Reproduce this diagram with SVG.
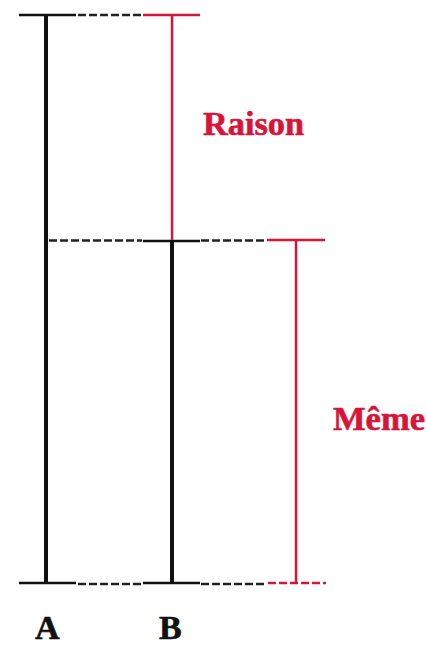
<svg xmlns="http://www.w3.org/2000/svg" width="427" height="645" viewBox="0 0 427 645">
<style>
.blk{stroke:#111;fill:none}
.red{stroke:#d8143a;fill:none}
.dash{stroke:#222;stroke-width:2.5;stroke-dasharray:8,3;fill:none}
.rdash{stroke:#d8143a;stroke-width:2.5;stroke-dasharray:8,3;fill:none}
.lbl{font-family:"Liberation Serif","Times New Roman",serif;font-weight:bold;font-size:34px}
.rl{fill:#d8143a;stroke:#d8143a;stroke-width:0.6}
.bl{fill:#111;stroke:#111;stroke-width:0.6}
</style>
<rect width="427" height="645" fill="#fff"/>
<g id="connectors">
<line class="dash" x1="78" y1="15" x2="141" y2="15"/>
<line class="dash" x1="49" y1="240.5" x2="142" y2="240.5"/>
<line class="dash" x1="201" y1="240.5" x2="266" y2="240.5"/>
<line class="dash" x1="78" y1="584" x2="141" y2="584"/>
<line class="dash" x1="201" y1="584" x2="266" y2="584"/>
<line class="rdash" x1="268" y1="583" x2="326" y2="583"/>
</g>
<g id="A">
<line class="blk" stroke-width="4" x1="46" y1="15" x2="46" y2="582"/>
<line class="blk" stroke-width="2.5" x1="19" y1="15" x2="76" y2="15"/>
<line class="blk" stroke-width="2.5" x1="19" y1="583" x2="76" y2="583"/>
<text class="lbl bl" x="35" y="639">A</text>
</g>
<g id="B">
<line class="blk" stroke-width="4" x1="172" y1="241" x2="172" y2="582"/>
<line class="blk" stroke-width="2.5" x1="143" y1="241" x2="200" y2="241"/>
<line class="blk" stroke-width="2.5" x1="143" y1="583" x2="200" y2="583"/>
<text class="lbl bl" x="159" y="639">B</text>
</g>
<g id="Raison">
<line class="red" stroke-width="2.5" x1="172" y1="15" x2="172" y2="240"/>
<line class="red" stroke-width="2.5" x1="143" y1="15" x2="200" y2="15"/>
<text class="lbl rl" x="203" y="135" textLength="101" lengthAdjust="spacingAndGlyphs">Raison</text>
</g>
<g id="Meme">
<line class="red" stroke-width="2.5" x1="296" y1="240" x2="296" y2="582"/>
<line class="red" stroke-width="2.5" x1="267" y1="240" x2="325" y2="240"/>
<text class="lbl rl" x="333" y="430" textLength="92" lengthAdjust="spacingAndGlyphs">Même</text>
</g>
</svg>
